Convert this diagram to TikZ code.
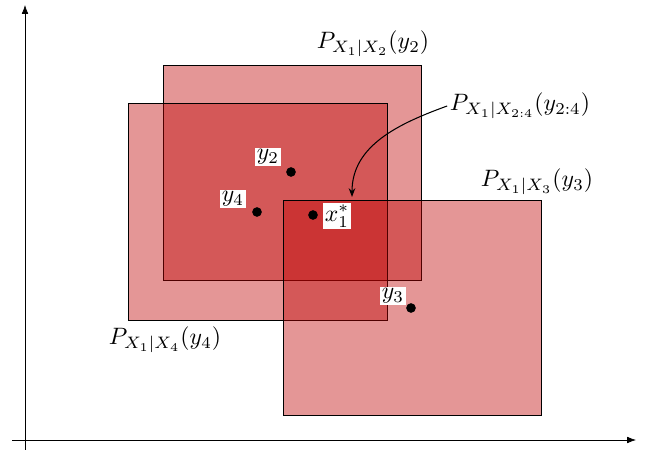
\documentclass[tikz,border=0pt]{standalone}
\usepackage{amsmath}
\usepackage{amssymb}
\usepackage{xcolor}
\usetikzlibrary{calc,arrows.meta,positioning}

\definecolor{boxred}{RGB}{190,0,0}
\tikzset{
  region/.style={draw=black,fill=boxred,fill opacity=0.41},
  dot/.style={circle,fill=black,inner sep=0pt,minimum size=5.5pt},
  ptlabel/.style={fill=white,inner sep=0.8pt,scale=1.35},
  dens/.style={scale=1.35,inner sep=1pt}
}

\begin{document}
\begin{tikzpicture}[x=0.02cm,y=0.02cm]
\useasboundingbox (0,0) rectangle (646,452);
% axes
\coordinate (O1) at (25,2);
\coordinate (Ytop) at (25,447);
\coordinate (O2) at (12,12);
\coordinate (Xend) at (636,12);
\draw[-{Latex[length=5pt]}] (O1)--(Ytop);
\draw[-{Latex[length=5pt]}] (O2)--(Xend);
% regions
\draw[region] (163,172) rectangle (421,387);
\draw[region] (128,132) rectangle (387,349);
\draw[region] (283,37) rectangle (541,252);
% points
\node[dot] (y2) at (291,280) {};
\node[dot] (y4) at (257,240) {};
\node[dot] (xs) at (313,237) {};
\node[dot] (y3) at (411,144) {};
\node[ptlabel] (ly2) at (268,295) {$y_2$};
\node[ptlabel] (ly4) at (233,253) {$y_4$};
\node[ptlabel] (lxs) at (337,236) {$x_1^*$};
\node[ptlabel] (ly3) at (393,156) {$y_3$};
% densities
\node[dens] (P2) at (373,408) {$P_{X_1|X_2}(y_2)$};
\node[dens] (P24) at (520,346) {$P_{X_1|X_{2:4}}(y_{2:4})$};
\node[dens] (P3) at (537,270) {$P_{X_1|X_3}(y_3)$};
\node[dens] (P4) at (165,112) {$P_{X_1|X_4}(y_4)$};
\coordinate (tip) at (352,255);
\draw[-{Stealth[length=5pt]},semithick] (P24.west) to[out=200,in=90] (tip);
\end{tikzpicture}
\end{document}
